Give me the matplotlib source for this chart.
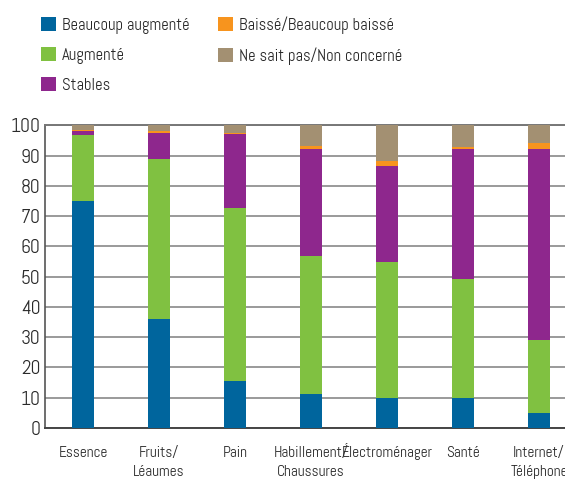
import numpy as np
import matplotlib
matplotlib.use("Agg")
import matplotlib.pyplot as plt
from matplotlib.patches import Patch

plt.rcParams['font.family'] = ['Abel', 'DejaVu Sans']

# every label has two lines so the baselines line up
categories = ["Essence\n ", "Fruits/\nLéaumes", "Pain\n ", "Habillement/\nChaussures",
              "Électroménager\n ", "Santé\n ", "Internet/\nTéléphone"]
beaucoup_augmente = [75, 36, 15.5, 11, 10, 10, 5]
augmente = [22, 53, 57.2, 45.8, 44.8, 39.2, 24]
stables = [1.2, 8.5, 24.4, 35.4, 31.7, 43, 63.2]
baisse = [0.4, 0.6, 0.4, 1.1, 1.7, 0.7, 2]
ne_sait_pas = [1.4, 1.9, 2.5, 6.7, 11.8, 7.1, 5.8]

series = [
    ("Beaucoup augmenté", beaucoup_augmente, "#00659d"),
    ("Augmenté", augmente, "#80c141"),
    ("Stables", stables, "#8e278d"),
    ("Baissé/Beaucoup baissé", baisse, "#f7941e"),
    ("Ne sait pas/Non concerné", ne_sait_pas, "#a39072"),
]

fig = plt.figure(figsize=(5.65, 4.79), dpi=100)
ax = fig.add_axes([0.0796, 0.107, 0.9416, 0.631])

x = np.arange(len(categories))
bottom = np.zeros(len(categories))
for name, vals, col in series:
    ax.bar(x, vals, width=0.3, bottom=bottom, color=col, zorder=3)
    bottom += np.array(vals)

ax.set_xlim(-0.5, len(categories) - 0.5)
ax.set_ylim(0, 100)
ax.set_yticks(range(0, 101, 10))
ax.yaxis.grid(True, color="#9a9a9a", linewidth=1.4, zorder=0)
ax.set_xticks(x)
ax.set_xticklabels(categories, fontsize=11, linespacing=1.45, va="baseline")
ax.tick_params(axis="y", labelsize=14, length=0, pad=3, colors="#2a2a2a")
ax.tick_params(axis="x", length=0, pad=35, colors="#2a2a2a")
ax.spines["right"].set_visible(False)
ax.spines["top"].set_color("#777777")
ax.spines["top"].set_linewidth(1.4)
ax.spines["left"].set_color("#555555")
ax.spines["bottom"].set_color("#444444")
ax.spines["left"].set_linewidth(1.2)
ax.spines["bottom"].set_linewidth(1.4)

handles = [Patch(facecolor=col, edgecolor="none") for _, _, col in series]
labels = [name for name, _, _ in series]
fig.legend(handles, labels, loc="upper left", bbox_to_anchor=(0.046, 0.997),
           ncol=2, frameon=False, fontsize=12, handlelength=0.9,
           handleheight=0.9, handletextpad=0.36, labelspacing=0.8,
           columnspacing=1.7, labelcolor="#2a2a2a")

fig.savefig("out.png", dpi=100)
